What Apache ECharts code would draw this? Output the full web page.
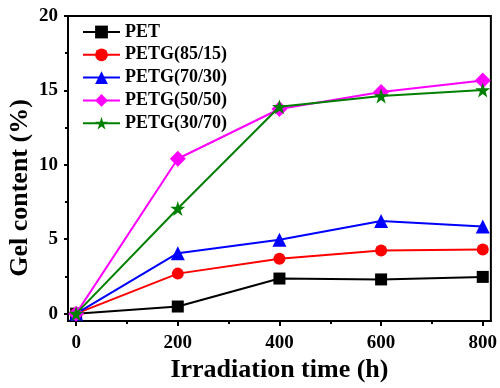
<!DOCTYPE html>
<html>
<head>
<meta charset="utf-8">
<script src="https://cdn.jsdelivr.net/npm/echarts@6/dist/echarts.min.js"></script>
<style>html,body{margin:0;padding:0;background:#fff}#c{width:500px;height:388px}</style>
</head>
<body>
<div id="c"></div>
<script>
var times = [0, 200, 400, 600, 800];
var seriesNames = ['PET', 'PETG(85/15)', 'PETG(70/30)', 'PETG(50/50)', 'PETG(30/70)'];
var pet      = [0, 0.48, 2.36, 2.30, 2.47];
var petg8515 = [0, 2.69, 3.69, 4.24, 4.31];
var petg7030 = [0, 4.06, 4.97, 6.23, 5.86];
var petg5050 = [0, 10.41, 13.75, 14.90, 15.67];
var petg3070 = [0, 7.07, 13.90, 14.63, 15.03];
var xTicks = [0, 200, 400, 600, 800];
var xMinorTicks = [100, 300, 500, 700];
var yTicks = [0, 5, 10, 15, 20];
var yMinorTicks = [2.5, 7.5, 12.5, 17.5];
var xAxisTitle = 'Irradiation time (h)';
var yAxisTitle = 'Gel content (%)';

var colors = ['#000000', '#ff0000', '#0000ff', '#ff00ff', '#008000'];
var symbols = ['rect', 'circle', 'triangle', 'diamond',
  'path://M50,0 L61.8,36.2 L100,36.2 L69.1,58.8 L80.9,95.1 L50,72.7 L19.1,95.1 L30.9,58.8 L0,36.2 L38.2,36.2 Z'];
var sizes = [12, 12, 14, 16, 15];
var allData = [pet, petg8515, petg7030, petg5050, petg3070];
var font = "'Times New Roman', 'Liberation Serif', serif";

var chart = echarts.init(document.getElementById('c'), null, {renderer: 'canvas'});
var series = allData.map(function (d, i) {
  return {
    name: seriesNames[i],
    type: 'line',
    xAxisIndex: 0, yAxisIndex: 0,
    data: times.map(function (t, j) { return [t, d[j]]; }),
    symbol: symbols[i],
    symbolSize: sizes[i],
    showAllSymbol: true,
    lineStyle: {color: colors[i], width: 2},
    itemStyle: {color: colors[i], borderWidth: 0},
    emphasis: {disabled: true},
    z: 2 + i
  };
});

function tickAxis(kind, vals, len, min, max) {
  return {
    type: 'value', min: min, max: max,
    position: kind === 'x' ? 'bottom' : 'left',
    axisLine: {show: false, onZero: false},
    splitLine: {show: false},
    axisTick: {show: true, inside: false, length: len, lineStyle: {color: '#000', width: 2}, customValues: vals},
    axisLabel: {show: false}
  };
}

chart.setOption({
  animation: false,
  backgroundColor: '#fff',
  grid: {left: 68, top: 16, right: 9, bottom: 63, show: true, borderColor: '#000', borderWidth: 2, backgroundColor: 'transparent'},
  legend: {
    orient: 'vertical',
    left: 82, top: 23, padding: 0,
    itemWidth: 37, itemHeight: 16, itemGap: 4.8,
    data: seriesNames,
    textStyle: {fontFamily: font, fontWeight: 'bold', fontSize: 18, color: '#000', lineHeight: 18},
    selectedMode: false
  },
  xAxis: [{
    type: 'value', min: -16, max: 816, position: 'bottom',
    axisLine: {show: true, onZero: false, lineStyle: {color: '#000', width: 2}},
    splitLine: {show: false},
    axisTick: {show: false},
    axisLabel: {customValues: xTicks, margin: 12, fontFamily: font, fontWeight: 'bold', fontSize: 19, color: '#000'},
    name: xAxisTitle, nameLocation: 'middle', nameGap: 34,
    nameTextStyle: {fontFamily: font, fontWeight: 'bold', fontSize: 26, color: '#000'}
  },
    tickAxis('x', xTicks, 5, -16, 816),
    tickAxis('x', xMinorTicks, 3, -16, 816)
  ],
  yAxis: [{
    type: 'value', min: -0.5, max: 20, position: 'left',
    axisLine: {show: true, onZero: false, lineStyle: {color: '#000', width: 2}},
    splitLine: {show: false},
    axisTick: {show: false},
    axisLabel: {customValues: yTicks, margin: 10, fontFamily: font, fontWeight: 'bold', fontSize: 19, color: '#000'}
  },
    tickAxis('y', yTicks, 4, -0.5, 20),
    tickAxis('y', yMinorTicks, 3, -0.5, 20)
  ],
  graphic: [{
    type: 'text',
    x: 20, y: 188,
    rotation: Math.PI / 2,
    style: {text: yAxisTitle, fontFamily: font, fontWeight: 'bold', fontSize: 26, fill: '#000', align: 'center', verticalAlign: 'middle'}
  }],
  series: series
});
</script>
</body>
</html>
